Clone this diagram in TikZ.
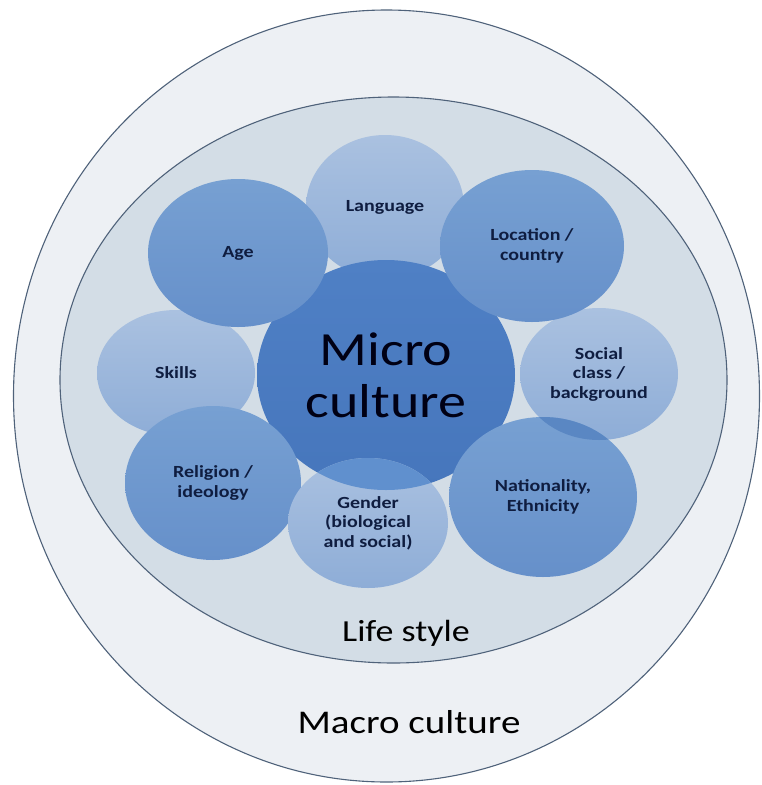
\documentclass[tikz,border=0pt]{standalone}
\usepackage{fontspec}
\usepackage{graphicx}
\setmainfont{Carlito}
\usetikzlibrary{shapes.geometric}

\definecolor{macrofill}{HTML}{EDF0F4}
\definecolor{lifefill}{HTML}{D3DDE6}
\definecolor{rimline}{HTML}{4F627A}
\definecolor{palehi}{HTML}{AAC1E0}
\definecolor{palelo}{HTML}{8EADD7}
\definecolor{midhi}{HTML}{77A0D2}
\definecolor{midlo}{HTML}{6690CA}
\definecolor{corehi}{HTML}{4F80C5}
\definecolor{corelo}{HTML}{4676BC}
\definecolor{lensA}{HTML}{6090CE}
\definecolor{lensB}{HTML}{5A87C3}
\definecolor{labelink}{HTML}{0F1D40}

% slightly condensed-height lettering
\newcommand\sq[1]{\scalebox{1}[0.85]{#1}}

\tikzset{
  blob/.style={ellipse, inner sep=0pt, draw=none, align=center},
  ring/.style={blob, draw=rimline, line width=1.1pt},
  pale/.style={blob, top color=palehi, bottom color=palelo,
    font=\bfseries\fontsize{20}{19.5}\selectfont, text=labelink},
  mid/.style={blob, top color=midhi, bottom color=midlo,
    font=\bfseries\fontsize{20}{19.5}\selectfont, text=labelink},
  core/.style={blob, top color=corehi, bottom color=corelo,
    font=\fontsize{56}{52}\selectfont, text=black!92!blue},
  bigtag/.style={inner sep=0pt, text=black},
}

\begin{document}
\begin{tikzpicture}[x=1pt, y=-1pt]
\useasboundingbox (0,0) rectangle (762,785);

% nested culture layers
\node[ring, fill=macrofill, minimum width=746pt, minimum height=772pt] (macro) at (386.5,396) {};
\node[ring, fill=lifefill, minimum width=667pt, minimum height=566pt] (life) at (393.5,380) {};

% factors around the core
\node[pale, minimum width=158pt, minimum height=144pt] (language) at (385,207) {\sq{Language}};
\node[core, minimum width=258pt, minimum height=230pt] (micro) at (386,375) {\sq{Micro}\\\sq{culture}};
\node[pale, minimum width=158pt, minimum height=126pt] (skills) at (176,373) {\sq{Skills}};
\node[pale, minimum width=158pt, minimum height=132pt] (social) at (599,374) {\sq{Social}\\\sq{class /}\\\sq{background}};
\node[mid, minimum width=180pt, minimum height=148pt] (age) at (238,253) {\sq{Age}};
\node[mid, minimum width=184pt, minimum height=152pt] (location) at (532,246) {\sq{Location /}\\\sq{country}};
\node[mid, minimum width=176pt, minimum height=154pt] (religion) at (213,483) {\sq{Religion /}\\\sq{ideology}};
\node[pale, minimum width=160pt, minimum height=130pt] (gender) at (368,523) {\sq{Gender}\\\sq{(biological}\\\sq{and social)}};
\node[mid, minimum width=188pt, minimum height=160pt] (nation) at (543,497) {\sq{Nationality,}\\\sq{Ethnicity}};

% overlaps where the shapes show through each other
\begin{scope}
  \clip (386,375) ellipse [x radius=129pt, y radius=115pt];
  \fill[lensA] (368,523) ellipse [x radius=80pt, y radius=65pt];
\end{scope}
\begin{scope}
  \clip (599,374) ellipse [x radius=79pt, y radius=66pt];
  \fill[lensB] (543,497) ellipse [x radius=94pt, y radius=80pt];
\end{scope}

% layer captions
\node[bigtag, font=\fontsize{36}{36}\selectfont] (lifetag) at (406,633) {\sq{Life style}};
\node[bigtag, font=\fontsize{39}{39}\selectfont] (macrotag) at (409,722) {\sq{Macro culture}};
\end{tikzpicture}
\end{document}
